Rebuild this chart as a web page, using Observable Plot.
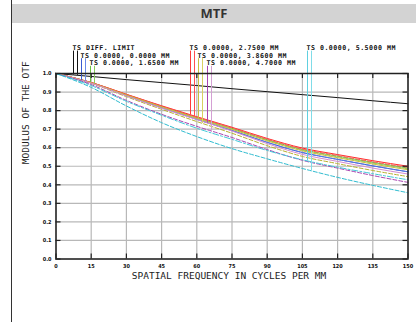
<!DOCTYPE html>
<html><head><meta charset="utf-8">
<script src="https://cdn.jsdelivr.net/npm/d3@7"></script>
<script src="https://cdn.jsdelivr.net/npm/@observablehq/plot@0.6"></script>
<style>
body{margin:0;background:#fff;}
#wrap{position:relative;width:416px;height:322px;overflow:hidden;background:#fff;}
#border{position:absolute;left:11px;top:0;width:1px;height:322px;background:#333;}
#title{position:absolute;left:12px;top:4px;width:404px;height:18.5px;background:#d3d3d3;
 font-family:"Open Sans","DejaVu Sans",sans-serif;font-weight:700;font-size:13px;color:#333;
 text-align:center;line-height:18.5px;z-index:2;}
#chart{position:absolute;left:0;top:0;}
</style></head>
<body><div id="wrap"><div id="border"></div><div id="title">MTF</div><div id="chart"></div></div>
<script>
const titleText = "MTF";
const xTitle = "SPATIAL FREQUENCY IN CYCLES PER MM";
const yTitle = "MODULUS OF THE OTF";
const xTicks = [0,15,30,45,60,75,90,105,120,135,150];
const yTicks = [0,0.1,0.2,0.3,0.4,0.5,0.6,0.7,0.8,0.9,1.0];

const freq = [0,15,30,45,60,75,90,105,120,135,150];
const diffLimit = [1,.984,.967,.951,.935,.918,.902,.886,.870,.853,.837];
const f0T   = [1,.949,.881,.816,.753,.693,.629,.574,.537,.502,.470];
const f0S   = [1,.949,.881,.816,.753,.693,.629,.574,.537,.502,.470];
const f165T = [1,.951,.886,.823,.762,.704,.643,.590,.554,.521,.490];
const f165S = [1,.951,.885,.821,.760,.702,.640,.587,.551,.517,.486];
const f275T = [1,.952,.888,.826,.767,.710,.650,.598,.563,.530,.500];
const f275S = [1,.951,.887,.824,.764,.707,.646,.593,.558,.524,.494];
const f386T = [1,.950,.884,.819,.758,.699,.637,.583,.546,.512,.481];
const f386S = [1,.947,.875,.807,.741,.678,.611,.553,.514,.477,.444];
const f47T  = [1,.948,.879,.813,.752,.690,.622,.564,.526,.490,.458];
const f47S  = [1,.940,.855,.780,.715,.655,.590,.532,.490,.450,.413];
const f55T  = [1,.935,.850,.775,.705,.645,.585,.535,.495,.460,.427];
const f55S  = [1,.925,.825,.735,.660,.595,.540,.488,.440,.397,.357];

const legendLabels = ["TS DIFF. LIMIT","TS 0.0000, 0.0000 MM","TS 0.0000, 1.6500 MM",
 "TS 0.0000, 2.7500 MM","TS 0.0000, 3.8600 MM","TS 0.0000, 4.7000 MM","TS 0.0000, 5.5000 MM"];

const series = [
 {name:"DL", v:diffLimit, c:"#111", dash:null},
 {name:"0T", v:f0T, c:"#3a5bd0", dash:null},
 {name:"0S", v:f0S, c:"#5a7ae6", dash:"4,2"},
 {name:"1T", v:f165T, c:"#6cc040", dash:null},
 {name:"1S", v:f165S, c:"#8ad060", dash:"4,2"},
 {name:"2T", v:f275T, c:"#ff2a2a", dash:null},
 {name:"2S", v:f275S, c:"#ff5a5a", dash:"4,2"},
 {name:"3T", v:f386T, c:"#c8c040", dash:null},
 {name:"3S", v:f386S, c:"#b8b030", dash:"4,2"},
 {name:"4T", v:f47T, c:"#d48cd0", dash:null},
 {name:"4S", v:f47S, c:"#a844b0", dash:"4,2"},
 {name:"5T", v:f55T, c:"#40c8d8", dash:"6,2,2,2"},
 {name:"5S", v:f55S, c:"#30bcd0", dash:"4,2"}
];

const mL=55.5, mR=8.5, mT=73, mB=63.5, W=416, H=322;
const pw = W-mL-mR, ph = H-mT-mB;
const xs = d3.scaleLinear([0,150],[mL,W-mR]);
const ys = d3.scaleLinear([0,1],[H-mB,mT]);

const legendPx = [[72,47.6],[80,55.2],[89,62.8],[189,47.6],[197,55.2],[206,62.8],[306,47.6]];
const legendPairs = [[0,0],[1,2],[3,4],[5,6],[7,8],[9,10],[11,12]];
const legendLineColors = [["#111","#111"],["#3a5bd0","#6a8ae8"],["#6cc040","#8ad060"],
 ["#ff3a3a","#ff5050"],["#c8c040","#d8d060"],["#a844b0","#d4a0d4"],["#60d0e0","#80dce8"]];

const legendText = legendLabels.map((t,i)=>({t, x: xs.invert(legendPx[i][0]), y: ys.invert(legendPx[i][1])}));
const legendLines = [];
legendLabels.forEach((t,i)=>{
  [1,5].forEach((off,j)=>{
    const px = legendPx[i][0]+off;
    const s = series[legendPairs[i][j]];
    const interp = d3.scaleLinear(freq, s.v);
    const fx = xs.invert(px);
    legendLines.push({x: fx, y1: ys.invert(legendPx[i][1]+3), y2: interp(fx), c: legendLineColors[i][j]});
  });
});

const curveMarks = series.map(s => Plot.line(freq.map((f,i)=>({f, v:s.v[i]})),
  {x:"f", y:"v", stroke:s.c, strokeWidth:1, strokeDasharray:s.dash, curve:"monotone-x"}));

const tickFont = {fontSize:5.5, fontWeight:"bold", fontFamily:"DejaVu Sans Condensed, DejaVu Sans, sans-serif", fill:"#111"};

const plot = Plot.plot({
  width: W, height: H, marginLeft: mL, marginRight: mR, marginTop: mT, marginBottom: mB,
  x: {domain:[0,150], axis:null},
  y: {domain:[0,1], axis:null},
  style: {background:"transparent", overflow:"visible"},
  marks: [
    Plot.gridX(xTicks, {stroke:"#b8b8b8", strokeOpacity:1, strokeWidth:1.2}),
    Plot.gridY(yTicks, {stroke:"#b8b8b8", strokeOpacity:1, strokeWidth:1.2}),
    ...curveMarks,
    Plot.ruleX(legendLines, {x:"x", y1:"y1", y2:"y2", stroke:"c", strokeWidth:1}),
    Plot.text(legendText, {x:"x", y:"y", text:"t", textAnchor:"start", lineAnchor:"middle",
       fontSize:6.6, fontWeight:"bold", fontFamily:"DejaVu Sans Mono, monospace", fill:"#111",
       style:"letter-spacing:0.5px"}),
    Plot.frame({stroke:"#222", strokeWidth:1.5}),
    Plot.ruleX(xTicks, {x:d=>d, insetTop: ph-5, stroke:"#222", strokeWidth:1.2}),
    Plot.ruleX(xTicks, {x:d=>d, insetBottom: ph-5, stroke:"#222", strokeWidth:1.2}),
    Plot.ruleY(yTicks, {y:d=>d, insetRight: pw-5, stroke:"#222", strokeWidth:1.2}),
    Plot.ruleY(yTicks, {y:d=>d, insetLeft: pw-5, stroke:"#222", strokeWidth:1.2}),
    Plot.text(xTicks, {x:d=>d, y:0, dy:7, text:d=>String(d), ...tickFont}),
    Plot.text(yTicks, {x:0, y:d=>d, dx:-4.5, textAnchor:"end", text:d=>d.toFixed(1), ...tickFont}),
    Plot.text([xTitle], {x:75, y:0, dy:17, dx:-3, text:d=>d, fontSize:9.5, fontFamily:"DejaVu Sans Mono, monospace", fill:"#222"}),
    Plot.text([yTitle], {frameAnchor:"left", dx:-30, dy:-2, rotate:-90, text:d=>d, fontSize:9.5, fontFamily:"DejaVu Sans Mono, monospace", fill:"#222"})
  ]
});
plot.querySelectorAll("text").forEach(t=>{ if (legendLabels.includes(t.textContent)) t.style.letterSpacing = "0.5px"; });
document.getElementById("chart").appendChild(plot);
</script></body></html>
